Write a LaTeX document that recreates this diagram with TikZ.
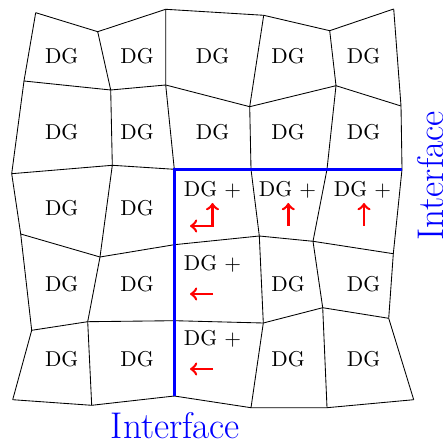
\documentclass[tikz,border=0pt]{standalone}
\begin{document}
\begin{tikzpicture}[x=0.4651pt,y=-0.4651pt]
    \useasboundingbox (0,0) rectangle (442,444);

    % Vertices
    \coordinate (v00) at (35.7,12.7);  \coordinate (v01) at (97.7,31.7);   \coordinate (v02) at (165.7,9.3);
    \coordinate (v03) at (263.7,15.3); \coordinate (v04) at (329.7,30.7);  \coordinate (v05) at (393.7,9);
    \coordinate (v10) at (24,81);      \coordinate (v11) at (110.7,90);    \coordinate (v12) at (165.7,85);
    \coordinate (v13) at (249.7,106.7);\coordinate (v14) at (336,85.7);    \coordinate (v15) at (401,106);
    \coordinate (v20) at (11.7,173.7); \coordinate (v21) at (112.3,165.3); \coordinate (v22) at (174.3,169.3);
    \coordinate (v23) at (251,169.3);  \coordinate (v24) at (327,169.3);   \coordinate (v25) at (402,169.3);
    \coordinate (v30) at (20.7,234);   \coordinate (v31) at (100,257);     \coordinate (v32) at (174.3,244.7);
    \coordinate (v33) at (259.3,236);  \coordinate (v34) at (313,241.3);   \coordinate (v35) at (393.3,253.7);
    \coordinate (v40) at (31.7,330.3); \coordinate (v41) at (87.7,321.7);  \coordinate (v42) at (174.3,320.7);
    \coordinate (v43) at (263.3,323);  \coordinate (v44) at (322.7,307.7); \coordinate (v45) at (388.7,318.3);
    \coordinate (v50) at (12.7,399.7); \coordinate (v51) at (91.7,405.3);  \coordinate (v52) at (174.3,396);
    \coordinate (v53) at (251,407.7);  \coordinate (v54) at (327,407.7);   \coordinate (v55) at (413.7,399.7);

    % Mesh
    \draw (v00) -- (v01) -- (v02) -- (v03) -- (v04) -- (v05);
    \draw (v10) -- (v11) -- (v12) -- (v13) -- (v14) -- (v15);
    \draw (v20) -- (v21) -- (v22) -- (v23) -- (v24) -- (v25);
    \draw (v30) -- (v31) -- (v32) -- (v33) -- (v34) -- (v35);
    \draw (v40) -- (v41) -- (v42) -- (v43) -- (v44) -- (v45);
    \draw (v50) -- (v51) -- (v52) -- (v53) -- (v54) -- (v55);
    \draw (v00) -- (v10) -- (v20) -- (v30) -- (v40) -- (v50);
    \draw (v01) -- (v11) -- (v21) -- (v31) -- (v41) -- (v51);
    \draw (v02) -- (v12) -- (v22) -- (v32) -- (v42) -- (v52);
    \draw (v03) -- (v13) -- (v23) -- (v33) -- (v43) -- (v53);
    \draw (v04) -- (v14) -- (v24) -- (v34) -- (v44) -- (v54);
    \draw (v05) -- (v15) -- (v25) -- (v35) -- (v45) -- (v55);

    % Interface
    \draw[blue, line width=1.6pt] (v52) -- (v42) -- (v32) -- (v22) -- (v23) -- (v24) -- (v25);

    % Labels
    \node (c00) at (61.7,56) {DG};  \node (c01) at (137,56) {DG};  \node (c02) at (212.5,56) {DG};
    \node (c03) at (288,56) {DG};   \node (c04) at (363.5,56) {DG};
    \node (c10) at (61.7,132) {DG}; \node (c11) at (137,132) {DG}; \node (c12) at (212.5,132) {DG};
    \node (c13) at (288,132) {DG};  \node (c14) at (363.5,132) {DG};
    \node (c20) at (61.7,208) {DG}; \node (c21) at (137,208) {DG};
    \node (c22) at (212.5,190) {DG +}; \node (c23) at (287.5,190) {DG +}; \node (c24) at (362.5,190) {DG +};
    \node (c30) at (61.7,284) {DG}; \node (c31) at (137,284) {DG};
    \node (c32) at (212.5,264) {DG +};
    \node (c33) at (288,284) {DG};  \node (c34) at (363.5,284) {DG};
    \node (c40) at (61.7,359) {DG}; \node (c41) at (137,359) {DG};
    \node (c42) at (212.5,339) {DG +};
    \node (c43) at (288,359) {DG};  \node (c44) at (363.5,359) {DG};
    \node[blue, font=\LARGE] (ifb) at (175.5,425.5) {Interface};
    \node[blue, font=\LARGE, rotate=90] (ifr) at (430.5,176) {Interface};

    % Arrows
    \coordinate (a22) at (212.5,203); \coordinate (k22) at (212.5,226); \coordinate (b22) at (190,226);
    \coordinate (a23) at (288.3,203); \coordinate (b23) at (288.3,226);
    \coordinate (a24) at (364,203);   \coordinate (b24) at (364,226);
    \coordinate (a32) at (213,294);   \coordinate (b32) at (190,294);
    \coordinate (a42) at (213,369);   \coordinate (b42) at (190,369);
    \draw[red, very thick, <->] (a22) -- (k22) -- (b22);
    \draw[red, very thick, ->] (b23) -- (a23);
    \draw[red, very thick, ->] (b24) -- (a24);
    \draw[red, very thick, ->] (a32) -- (b32);
    \draw[red, very thick, ->] (a42) -- (b42);

\end{tikzpicture}
\end{document}
